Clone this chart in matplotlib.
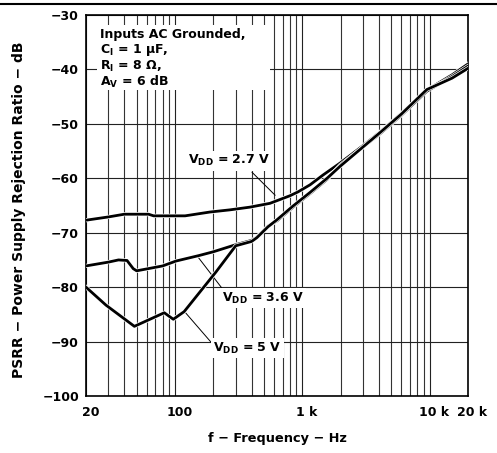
import matplotlib
matplotlib.use("Agg")
import matplotlib.pyplot as plt
import matplotlib.patheffects as pe
from matplotlib.patches import Rectangle
from matplotlib.lines import Line2D
from matplotlib.transforms import ScaledTranslation

plt.rcParams['font.family'] = ['DejaVu Sans']
plt.rcParams['font.weight'] = 'bold'
plt.rcParams['mathtext.fontset'] = 'dejavusans'
plt.rcParams['mathtext.default'] = 'bf'

# PSRR vs frequency
f27 = [20, 30, 40, 62, 68, 120, 188, 270, 388, 557, 668, 801, 925, 1150, 1454, 1980,
       3000, 4080, 6000, 9500, 15000, 20000]
v27 = [-67.7, -67.1, -66.6, -66.6, -66.9, -66.9, -66.2, -65.8, -65.3, -64.6, -63.9, -63.2,
       -62.5, -61.2, -59.4, -57.2, -54.0, -51.5, -48.1, -43.8, -41.0, -39.0]

f36 = [20, 30, 36, 42, 47, 50, 80, 102, 154, 200, 300, 400, 430, 538, 634, 845, 1150,
       1564, 1980, 4080, 6000, 9500, 15000, 20000]
v36 = [-76.1, -75.4, -75.0, -75.1, -76.6, -77.0, -76.1, -75.2, -74.2, -73.5, -72.2, -71.4,
       -71.0, -68.8, -67.8, -65.3, -62.8, -60.2, -57.6, -51.8, -48.4, -44.0, -41.3, -39.4]

f50 = [20, 28.7, 48, 82.4, 97, 118, 210, 300, 400, 440, 538, 634, 845, 1150, 1564, 1980,
       4080, 6000, 9500, 15000, 20000]
v50 = [-80.0, -83.3, -87.2, -84.7, -85.9, -84.5, -77.2, -72.4, -71.6, -70.9, -68.9, -67.6,
       -65.1, -62.6, -60.0, -57.8, -51.6, -48.2, -43.7, -41.6, -39.8]

xticks = [20, 100, 1000, 10000, 20000]
xticklabels = ['20', '100', '1 k', '10 k', '20 k']
yticks = [-100, -90, -80, -70, -60, -50, -40, -30]

# label text, label position (f, dB), leader start, leader end
labels = [
    (r'V$_{DD}$ = 2.7 V', (127, -56.8), (403, -58.9), (611, -63.1)),
    (r'V$_{DD}$ = 3.6 V', (234, -82.0), (152, -74.5), (234, -80.2)),
    (r'V$_{DD}$ = 5 V', (199, -91.2), (120, -84.6), (195, -90.3)),
]
note = ['Inputs AC Grounded,', r'C$_I$ = 1 $\mu$F,', r'R$_I$ = 8 $\Omega$,', r'A$_V$ = 6 dB']

FS = 9

fig = plt.figure(figsize=(4.97, 4.53), dpi=100)
ax = fig.add_axes([0.173, 0.1258, 0.7686, 0.8411])
ax.set_xscale('log')
ax.set_xlim(20, 20000)
ax.set_ylim(-100, -30)

ax.set_xticks(xticks)
ax.set_xticklabels(xticklabels)
ax.set_xticks([m * 10 ** e for e in (1, 2, 3) for m in range(2, 10)
               if 20 < m * 10 ** e < 20000], minor=True)
ax.set_yticks(yticks)
ax.tick_params(which='both', length=0)
ax.tick_params(axis='x', pad=7, labelsize=FS)
ax.tick_params(axis='y', pad=5, labelsize=FS)
shift = ScaledTranslation(0.045, 0, fig.dpi_scale_trans)
for t in ax.get_xticklabels():
    t.set_transform(t.get_transform() + shift)
for t in ax.get_xticklabels() + ax.get_yticklabels():
    t.set_fontweight('bold')

ax.grid(which='major', color='#222222', lw=0.8)
ax.grid(which='minor', axis='x', color='#333333', lw=0.8)
ax.set_axisbelow(True)
for s in ax.spines.values():
    s.set_linewidth(1.2)

stroke = [pe.Stroke(linewidth=3.0, foreground='white'), pe.Normal()]
for f, v in [(f27, v27), (f36, v36), (f50, v50)]:
    ax.plot(f, v, color='black', lw=2.0, zorder=4, path_effects=stroke)

for txt, pos, p0, p1 in labels:
    ax.plot([p0[0], p1[0]], [p0[1], p1[1]], color='black', lw=0.7, zorder=3)
    ax.text(pos[0], pos[1], txt, fontsize=FS, fontweight='bold', ha='left', va='center',
            zorder=5, bbox=dict(facecolor='white', edgecolor='none', pad=1.5))

# white box behind the test conditions
ax.add_patch(Rectangle((0.029, 0.803), 0.453, 0.171, transform=ax.transAxes,
                       facecolor='white', edgecolor='none', zorder=2))
for i, line in enumerate(note):
    ax.text(0.037, 0.950 - i * 0.042, line, transform=ax.transAxes, fontsize=FS,
            fontweight='bold', ha='left', va='center', zorder=5)

ax.set_ylabel('PSRR − Power Supply Rejection Ratio − dB', fontsize=10, fontweight='bold')
ax.yaxis.set_label_coords(-0.158, 0.49)
ax.set_xlabel('f − Frequency − Hz', fontsize=9.3, fontweight='bold')
ax.xaxis.set_label_coords(0.5, -0.094)

fig.add_artist(Line2D([0, 1], [0.991, 0.991], transform=fig.transFigure, color='black', lw=1.5))

fig.savefig('out.png', dpi=100)
